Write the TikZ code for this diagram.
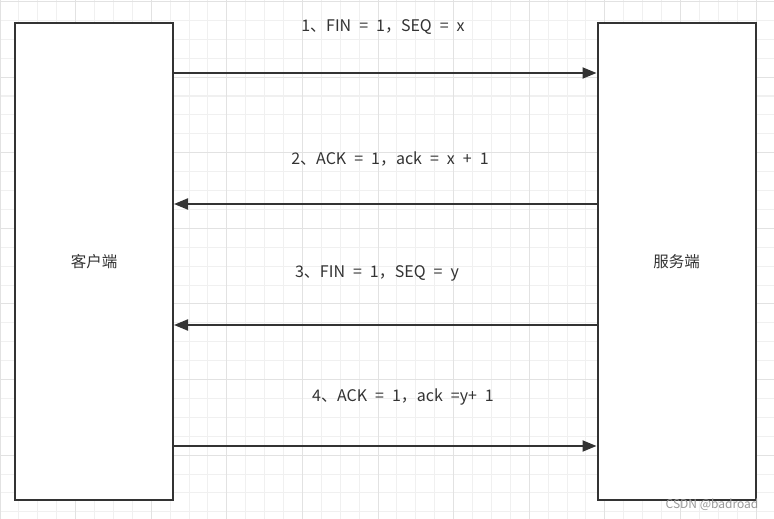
\documentclass[tikz,border=0pt]{standalone}
\usepackage{fontspec}
\setmainfont{Noto Sans CJK SC}
\usetikzlibrary{arrows.meta}
\definecolor{minorgrid}{HTML}{F0F0F0}
\definecolor{majorgrid}{HTML}{E2E2E2}
\definecolor{ink}{HTML}{333333}
\newcommand\widesp{\spaceskip=8pt plus 0pt minus 0pt\relax}
\begin{document}
\begin{tikzpicture}[x=1pt,y=-1pt,
  party/.style={draw=ink,line width=2pt,fill=white,minimum width=158pt,minimum height=477pt,inner sep=0pt,font=\fontsize{15.5}{17}\selectfont,text=ink},
  msg/.style={draw=ink,line width=2pt,-{Triangle[length=14pt,width=11pt]}},
  lbl/.style={font=\fontsize{16}{18}\selectfont,text=ink,inner sep=0pt,execute at begin node=\widesp}]
\useasboundingbox (0,0) rectangle (774,519);
\fill[white] (0,0) rectangle (774,519);
\foreach \i in {0,...,41} {\draw[minorgrid,line width=1pt] ({\i*18.9},0) -- ({\i*18.9},519);}
\foreach \i in {0,...,28} {\draw[minorgrid,line width=1pt] (0,{1.5+\i*18.9}) -- (774,{1.5+\i*18.9});}
\foreach \i in {0,...,10} {\draw[majorgrid,line width=1pt] ({\i*75.6},0) -- ({\i*75.6},519);}
\foreach \i in {0,...,7} {\draw[majorgrid,line width=1pt] (0,{1.5+\i*75.6}) -- (774,{1.5+\i*75.6});}
\node[party] (client) at (94,261.5) {客户端};
\node[party] (server) at (676.5,261.5) {服务端};
\coordinate (c1) at (client.east |- 0,73);
\coordinate (s1) at (server.west |- 0,73);
\coordinate (c2) at (client.east |- 0,204);
\coordinate (s2) at (server.west |- 0,204);
\coordinate (c3) at (client.east |- 0,325);
\coordinate (s3) at (server.west |- 0,325);
\coordinate (c4) at (client.east |- 0,446);
\coordinate (s4) at (server.west |- 0,446);
\draw[msg] (c1) -- (s1);
\draw[msg] (s2) -- (c2);
\draw[msg] (s3) -- (c3);
\draw[msg] (c4) -- (s4);
\node[lbl] (l1) at (383,27.5) {1、FIN = 1，SEQ = x};
\node[lbl] (l2) at (390,158.5) {2、ACK = 1，ack = x + 1};
\node[lbl] (l3) at (377,273.5) {3、FIN = 1，SEQ = y};
\node[lbl] (l4) at (403,397.5) {4、ACK = 1，ack =y+ 1};
\node[font=\fontsize{12}{13}\selectfont,text=black!40,inner sep=0pt] (wm) at (712,504.5) {CSDN @badroad};
\end{tikzpicture}
\end{document}
